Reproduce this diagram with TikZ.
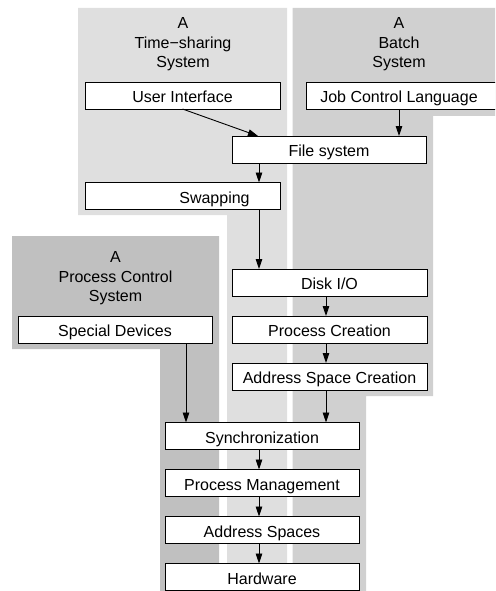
\documentclass[tikz,border=0pt]{standalone}
\usepackage{fontspec}
\setmainfont{Liberation Sans}
\usepackage{tikz}
\usetikzlibrary{arrows.meta,positioning}
\definecolor{tsgray}{RGB}{223,223,223}
\definecolor{bagray}{RGB}{208,208,208}
\definecolor{pcgray}{RGB}{192,192,192}
\tikzset{box/.style = {rectangle, draw=black, fill=white, line width=0.9pt,
                       minimum width=195pt, minimum height=27pt, inner sep=0pt,
                       outer sep=0pt, text height=14pt, text depth=0pt}}

\begin{document}
\begin{tikzpicture}[x=1pt, y=-1pt, font=\fontsize{16pt}{19.5pt}\selectfont,
  arr/.style = {-{Triangle[length=10pt,width=6.5pt]}, line width=0.9pt},
  title/.style = {align=center, anchor=north, inner sep=0pt}]
\clip (0,0) rectangle (495,591);
\fill[tsgray] (78,8) -- (287,8) -- (287,600) -- (227,600) -- (227,215) -- (78,215) -- cycle;
\fill[bagray] (292.5,8) -- (510,8) -- (510,116) -- (433,116) -- (433,396) -- (366,396) -- (366,600) -- (292.5,600) -- cycle;
\fill[pcgray] (12,236) -- (219,236) -- (219,600) -- (160,600) -- (160,349) -- (12,349) -- cycle;
\coordinate (colA) at (259,0);
\coordinate (colB) at (326,0);
\coordinate (colC) at (186,0);
\coordinate (colJ) at (399,0);
\node[title] (tstitle) at (183,17.5) {A\\Time−sharing\\System};
\node[title] (batitle) at (399,17.5) {A\\Batch\\System};
\node[title] (pctitle) at (115.5,251.5) {A\\Process Control\\System};
\node[box] (ui) at (182.5,95.5) {User Interface};
\node[box, minimum width=196pt] (jcl) at (404,95.5) {Job Control Language\hspace*{10pt}};
\node[box, minimum width=194pt] (fs) at (329,149.5) {File system};
\node[box] (swap) at (182.5,196) {\hspace*{64pt}Swapping};
\node[box, minimum width=194pt] (spec) at (115,329.5) {Special Devices};
\node[box] (disk) at (329.5,282.5) {Disk I/O};
\node[box, below=20pt of disk] (pcr) {Process Creation};
\node[box, below=20pt of pcr] (asc) {Address Space Creation};
\node[box, minimum width=194pt] (sync) at (262,436) {Synchronization};
\node[box, minimum width=194pt, below=20pt of sync] (pm) {Process Management};
\node[box, minimum width=194pt, below=20pt of pm] (as) {Address Spaces};
\node[box, minimum width=194pt, below=20pt of as] (hw) {Hardware};
\draw[arr] (ui.south) -- ([xshift=26pt]fs.north west);
\draw[arr] (jcl.south -| colJ) -- (fs.north -| colJ);
\draw[arr] (fs.south -| colA) -- (swap.north -| colA);
\draw[arr] (swap.south -| colA) -- (disk.north -| colA);
\draw[arr] (disk.south -| colB) -- (pcr.north -| colB);
\draw[arr] (pcr.south -| colB) -- (asc.north -| colB);
\draw[arr] (asc.south -| colB) -- (sync.north -| colB);
\draw[arr] (spec.south -| colC) -- (sync.north -| colC);
\draw[arr] (sync.south -| colA) -- (pm.north -| colA);
\draw[arr] (pm.south -| colA) -- (as.north -| colA);
\draw[arr] (as.south -| colA) -- (hw.north -| colA);
\end{tikzpicture}
\end{document}
